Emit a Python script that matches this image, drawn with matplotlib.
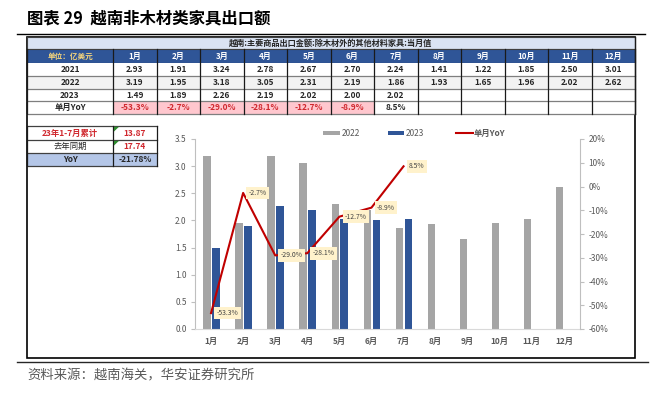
import matplotlib
matplotlib.use("Agg")
import matplotlib.pyplot as plt
from matplotlib.patches import Rectangle, Polygon
import numpy as np

plt.rcParams['font.family'] = ['Noto Sans CJK SC', 'DejaVu Sans']

# ---------------- data ----------------
months = ["1月", "2月", "3月", "4月", "5月", "6月", "7月", "8月", "9月", "10月", "11月", "12月"]
v2021 = [2.93, 1.91, 3.24, 2.78, 2.67, 2.70, 2.24, 1.41, 1.22, 1.85, 2.50, 3.01]
v2022 = [3.19, 1.95, 3.18, 3.05, 2.31, 2.19, 1.86, 1.93, 1.65, 1.96, 2.02, 2.62]
v2023 = [1.49, 1.89, 2.26, 2.19, 2.02, 2.00, 2.02]
yoy = [-53.3, -2.7, -29.0, -28.1, -12.7, -8.9, 8.5]
cum_labels = ["23年1-7月累计", "去年同期", "YoY"]
cum_values = ["13.87", "17.74", "-21.78%"]
table_title = "越南:主要商品出口金额:除木材外的其他材料家具:当月值"
unit_label = "单位：亿美元"
row_labels = ["2021", "2022", "2023", "单月YoY"]
legend_labels = ["2022", "2023", "单月YoY"]

C_GRAY = "#A5A5A5"
C_BLUE = "#2F5597"
C_RED = "#C00000"
C_TXT = "#595959"

W, H = 651, 398
fig = plt.figure(figsize=(W / 100, H / 100), dpi=100)
bg = fig.add_axes([0, 0, 1, 1])
bg.set_xlim(0, W)
bg.set_ylim(H, 0)
bg.axis('off')

# ---------------- title ----------------
bg.text(27, 18, "图表 29  越南非木材类家具出口额", fontsize=11.8, fontweight='bold',
        va='center', ha='left', color='black')
bg.plot([17, 645], [33.5, 33.5], color='black', lw=1.0)

# outer box
bg.add_patch(Rectangle((27, 37), 608, 321, fc='white', ec='black', lw=1.2, zorder=1))

# ---------------- main table ----------------
x0, x1 = 27, 113
cw = (635 - 113) / 12.0
col_x = [x0, x1] + [x1 + cw * (i + 1) for i in range(12)]
# title band
bg.add_patch(Rectangle((27, 37), 608, 12, fc='#DAE3F3', ec='#404040', lw=0.8, zorder=2))
bg.text(331, 43.5, table_title, fontsize=5.9, fontweight='bold', ha='center', va='center',
        color='#262626', zorder=3)
# header row
bg.add_patch(Rectangle((27, 49), 608, 14, fc=C_BLUE, ec='#404040', lw=0.8, zorder=2))
bg.text((x0 + x1) / 2, 56, unit_label, fontsize=5.5, fontweight='bold', ha='center', va='center',
        color='#F4D47C', zorder=3)
for i, m in enumerate(months):
    bg.text(x1 + cw * (i + 0.5), 56, m, fontsize=5.8, fontweight='bold', ha='center',
            va='center', color='white', zorder=3)

row_y = [63, 76, 89, 101, 114]
row_fc = ['white', '#F2F2F2', 'white', 'white']
data_rows = [v2021, v2022, v2023]
for r in range(4):
    ytop, ybot = row_y[r], row_y[r + 1]
    bg.add_patch(Rectangle((27, ytop), 608, ybot - ytop, fc=row_fc[r], ec='none', zorder=2))
    yc = (ytop + ybot) / 2
    bg.text((x0 + x1) / 2, yc, row_labels[r], fontsize=6, fontweight='bold', ha='center',
            va='center', color='#262626', zorder=4)
    if r < 3:
        vals = data_rows[r]
        for i, v in enumerate(vals):
            bg.text(x1 + cw * (i + 0.5), yc, f"{v:.2f}", fontsize=6, fontweight='bold',
                    ha='center', va='center', color='#262626', zorder=4)
    else:
        for i, v in enumerate(yoy):
            cx = x1 + cw * i
            if v < 0:
                bg.add_patch(Rectangle((cx, ytop), cw, ybot - ytop, fc='#FFC7CE', ec='none', zorder=2.5))
                col = '#D0282E'
            else:
                col = '#262626'
            bg.text(cx + cw / 2, yc, f"{v:.1f}%", fontsize=6, fontweight='bold',
                    ha='center', va='center', color=col, zorder=4)
    bg.plot([27, 635], [ybot, ybot], color='#7F7F7F', lw=0.9, zorder=3)
for xx in col_x:
    bg.plot([xx, xx], [49, 114], color='#1A1A1A', lw=0.9, zorder=3.5)
bg.plot([635, 635], [37, 114], color='#1A1A1A', lw=1.0, zorder=3.5)

# ---------------- small cumulative table ----------------
sy = [126, 140, 153, 166]
sx = [27, 113, 157]
for r in range(3):
    ytop, ybot = sy[r], sy[r + 1]
    fc = '#B4C6E7' if r == 2 else 'white'
    bg.add_patch(Rectangle((27, ytop), 130, ybot - ytop, fc=fc, ec='none', zorder=2))
    yc = (ytop + ybot) / 2
    lab_col = '#D0282E' if r == 0 else '#262626'
    lab_w = 'bold' if r != 1 else 'normal'
    bg.text(70, yc, cum_labels[r], fontsize=6, fontweight=lab_w, ha='center', va='center',
            color=lab_col, zorder=4)
    val_col = '#D0282E' if r < 2 else '#262626'
    bg.text(135, yc, cum_values[r], fontsize=6, fontweight='bold', ha='center', va='center',
            color=val_col, zorder=4)
    if r < 2:
        bg.add_patch(Polygon([[114, ytop + 0.8], [119, ytop + 0.8], [114, ytop + 5.5]],
                             closed=True, fc='#2E8B2E', ec='none', zorder=4))
for yy in sy:
    bg.plot([27, 157], [yy, yy], color='#404040', lw=0.9, zorder=3)
for xx in sx:
    bg.plot([xx, xx], [126, 166], color='#1A1A1A', lw=0.9, zorder=3)

# ---------------- chart ----------------
L, R, T, B = 195, 580, 139, 329
ax = fig.add_axes([L / W, 1 - B / H, (R - L) / W, (B - T) / H])
ax.patch.set_alpha(0)
x = np.arange(len(months))
bw = 0.23
ax.bar(x - 0.13, v2022, width=bw, color=C_GRAY, zorder=2)
ax.bar(np.arange(len(v2023)) + 0.15, v2023, width=bw, color=C_BLUE, zorder=2)
ax.set_xlim(-0.5, len(months) - 0.5)
ax.set_ylim(0, 3.5)
ax.set_yticks(np.arange(0, 3.51, 0.5))
ax.set_yticklabels([f"{t:.1f}" for t in np.arange(0, 3.51, 0.5)])
ax.set_xticks(x)
ax.set_xticklabels(months)
ax.tick_params(axis='x', length=0, pad=6, labelsize=6, labelcolor=C_TXT)
ax.tick_params(axis='y', length=3, width=0.8, color='#BFBFBF', pad=3, labelsize=6, labelcolor=C_TXT)
for lab in ax.get_xticklabels():
    lab.set_fontweight('bold')
ax.spines['top'].set_visible(False)
ax.spines['right'].set_visible(False)
ax.spines['left'].set_color('#BFBFBF')
ax.spines['bottom'].set_color('#D9D9D9')

ax2 = ax.twinx()
ax2.set_ylim(-60, 20)
ax2.set_yticks(np.arange(-60, 21, 10))
ax2.set_yticklabels([f"{int(t)}%" for t in np.arange(-60, 21, 10)])
ax2.tick_params(axis='y', length=3, width=0.8, color='#BFBFBF', pad=3, labelsize=6, labelcolor=C_TXT)
for s in ['top', 'left', 'bottom']:
    ax2.spines[s].set_visible(False)
ax2.spines['right'].set_color('#BFBFBF')
xl = np.arange(len(yoy))
ax2.plot(xl, yoy, color=C_RED, lw=1.5, zorder=3)
for xi, v in zip(xl, yoy):
    ax2.annotate(f"{v:.1f}%", (xi, v), xytext=(4, 0), textcoords='offset points',
                 ha='left', va='center', fontsize=4.9, color='#404040',
                 bbox=dict(boxstyle='square,pad=0.35', fc='#FFF2CC', ec='none'), zorder=5)

# legend (manual)
bg.add_patch(Rectangle((323, 131), 17, 4, fc=C_GRAY, ec='none'))
bg.text(342, 133, legend_labels[0], fontsize=6, ha='left', va='center', color=C_TXT)
bg.add_patch(Rectangle((388, 131), 16, 4, fc=C_BLUE, ec='none'))
bg.text(406, 133, legend_labels[1], fontsize=6, ha='left', va='center', color=C_TXT)
bg.plot([456, 473], [133, 133], color=C_RED, lw=1.5)
bg.text(474, 133, legend_labels[2], fontsize=6, ha='left', va='center', color=C_TXT,
        fontweight='bold')

# ---------------- footer ----------------
bg.plot([17, 648], [362, 362], color='#262626', lw=1.0)
bg.text(27, 375, "资料来源：越南海关，华安证券研究所", fontsize=9.6, ha='left', va='center',
        color='#595959')

fig.savefig("out.png", dpi=100)
